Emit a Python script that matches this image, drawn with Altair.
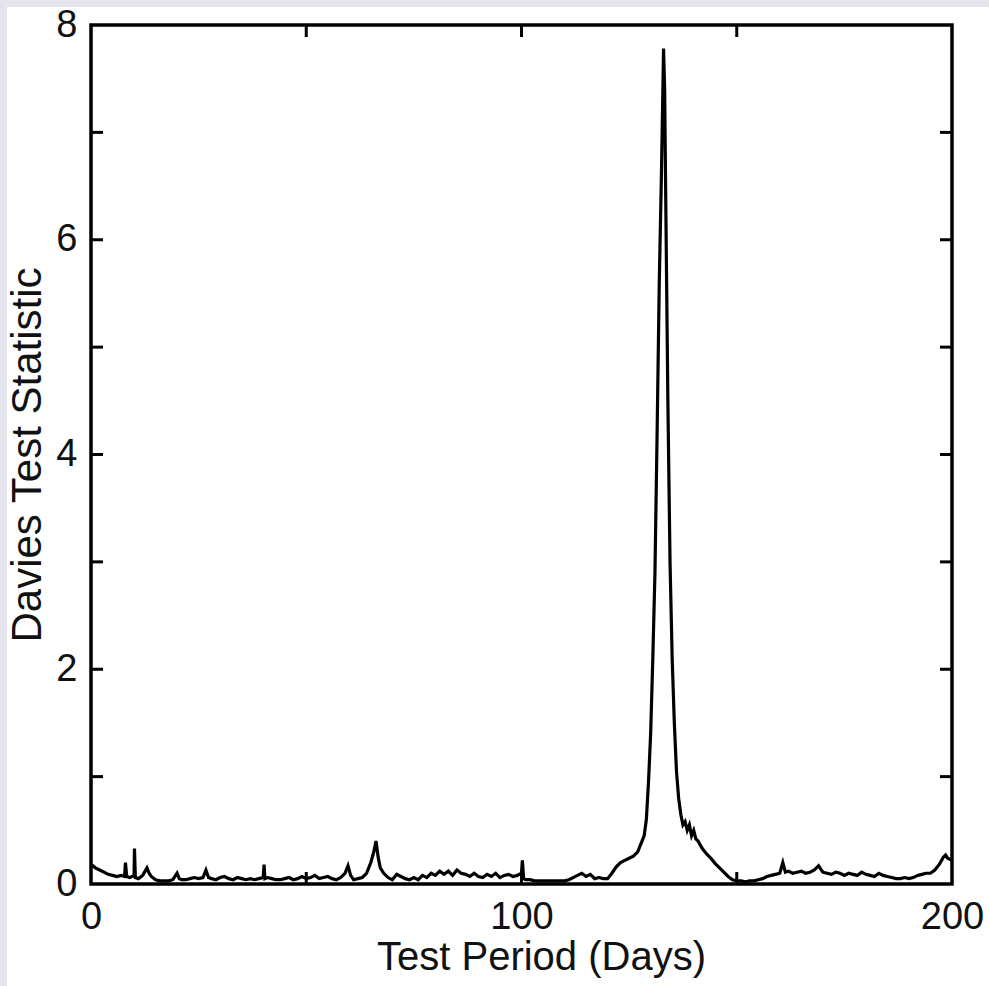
import altair as alt
import pandas as pd

# Test period (days) and Davies test statistic
days = [0, 0.5, 1, 2, 3, 4, 5, 6, 7, 7.8, 8, 8.3, 9, 10, 10.1, 10.3, 11, 12, 13, 13.5,
        14, 15, 16, 17, 18, 19, 20, 20.5, 21, 22, 23, 24, 25, 26, 26.7, 27.3, 28, 29, 30,
        31, 32, 33, 34, 35, 36, 37, 38, 39, 40, 40.2, 40.4, 41, 42, 43, 44, 45, 46, 47, 48,
        49, 50, 51, 52, 53, 54, 55, 56, 57, 58, 59, 59.7, 60.3, 61, 62, 63, 64, 65, 65.7,
        66.2, 66.7, 67.2, 68, 69, 70, 71, 72, 73, 74, 75, 76, 77, 78, 79, 80, 81, 82, 83,
        84, 85, 86, 87, 88, 89, 90, 91, 92, 93, 94, 95, 96, 97, 98, 99, 100, 100.2, 100.5,
        101, 102, 103, 104, 105, 106, 107, 108, 109, 110, 111, 112, 113, 114, 115, 116, 117,
        118, 119, 120, 121, 122, 123, 124, 125, 126, 127, 127.5, 128, 128.5, 129, 129.5,
        130, 130.5, 131, 131.5, 132, 132.5, 133, 133.25, 133.5, 134, 134.5, 135, 135.5,
        136, 136.5, 137, 137.5, 138, 138.5, 139, 139.5, 140, 140.5, 141, 142, 143, 144,
        145, 146, 147, 148, 149, 150, 151, 152, 153, 154, 155, 156, 157, 158, 159, 160,
        160.7, 161.3, 162, 163, 164, 165, 166, 167, 168, 169, 170, 171, 172, 173, 174, 175,
        176, 177, 178, 179, 180, 181, 182, 183, 184, 185, 186, 187, 188, 189, 190, 191, 192,
        193, 194, 195, 196, 197, 198, 198.5, 199, 200]
values = [0.18, 0.17, 0.15, 0.13, 0.11, 0.09, 0.08, 0.07, 0.08, 0.07, 0.2, 0.07, 0.06, 0.08,
          0.33, 0.06, 0.05, 0.08, 0.15, 0.1, 0.07, 0.04, 0.03, 0.03, 0.03, 0.04, 0.1, 0.05,
          0.04, 0.04, 0.05, 0.06, 0.05, 0.06, 0.13, 0.06, 0.05, 0.04, 0.06, 0.07, 0.05, 0.04,
          0.06, 0.05, 0.04, 0.05, 0.04, 0.05, 0.06, 0.18, 0.05, 0.06, 0.05, 0.04, 0.04, 0.05,
          0.06, 0.04, 0.05, 0.07, 0.05, 0.06, 0.08, 0.05, 0.06, 0.07, 0.05, 0.04, 0.06, 0.1,
          0.17, 0.08, 0.04, 0.05, 0.06, 0.1, 0.2, 0.3, 0.4, 0.25, 0.15, 0.1, 0.06, 0.04, 0.09,
          0.07, 0.05, 0.04, 0.06, 0.04, 0.08, 0.06, 0.1, 0.08, 0.12, 0.09, 0.12, 0.08, 0.13,
          0.1, 0.09, 0.07, 0.1, 0.07, 0.06, 0.09, 0.07, 0.1, 0.06, 0.08, 0.09, 0.07, 0.08, 0.1,
          0.22, 0.05, 0.04, 0.04, 0.03, 0.03, 0.03, 0.03, 0.03, 0.03, 0.03, 0.03, 0.04, 0.06,
          0.08, 0.1, 0.07, 0.09, 0.05, 0.06, 0.05, 0.05, 0.1, 0.16, 0.2, 0.22, 0.24, 0.26, 0.3,
          0.35, 0.4, 0.45, 0.6, 0.95, 1.4, 2.1, 2.9, 4.2, 5.6, 6.6, 7.78, 7.4, 6.4, 4.5, 3.0,
          2.1, 1.5, 1.05, 0.8, 0.65, 0.55, 0.58, 0.5, 0.55, 0.45, 0.5, 0.42, 0.4, 0.33, 0.28,
          0.24, 0.19, 0.15, 0.11, 0.07, 0.04, 0.03, 0.03, 0.02, 0.03, 0.03, 0.04, 0.05, 0.07,
          0.08, 0.09, 0.1, 0.2, 0.11, 0.12, 0.1, 0.11, 0.12, 0.1, 0.11, 0.13, 0.17, 0.11, 0.1,
          0.09, 0.11, 0.1, 0.08, 0.1, 0.09, 0.08, 0.11, 0.09, 0.08, 0.07, 0.1, 0.08, 0.07,
          0.06, 0.05, 0.05, 0.06, 0.05, 0.06, 0.08, 0.09, 0.1, 0.1, 0.13, 0.18, 0.25, 0.27,
          0.24, 0.22]

y_ticks = [1, 2, 3, 4, 5, 6, 7]
x_ticks = [50, 100, 150]
y_labels = [0, 2, 4, 6, 8]
x_labels = [0, 100, 200]

W, H = 861, 859
FONT = "Liberation Sans"
INK = "#111111"

df = pd.DataFrame({"d": days, "v": values})
yt = pd.DataFrame({"v": y_ticks})
xt = pd.DataFrame({"d": x_ticks})

xscale = alt.Scale(domain=[0, 200], nice=False, zero=False)
yscale = alt.Scale(domain=[0, 8], nice=False)

xaxis = alt.Axis(values=x_labels, title="Test Period (Days)", ticks=False, domain=False,
                 grid=False, labelFlush=False, labelOverlap=False, labelPadding=14,
                 labelFontSize=38, titleFontSize=40, titlePadding=1, titleX=450, zindex=1)
yaxis = alt.Axis(values=y_labels, title="Davies Test Statistic", ticks=False,
                 domain=False, grid=False, labelPadding=14, labelOverlap=False,
                 labelFontSize=38, titleFontSize=42,
                 labelFlush=False, titlePadding=6, zindex=1)

# white page area (the reference has a thin grey border on top and left)
page = alt.Chart(pd.DataFrame({"a": [0]})).mark_rect(color="white").encode(
    x=alt.value(-84), x2=alt.value(989 - 91),
    y=alt.value(-18), y2=alt.value(986 - 25),
)

line = alt.Chart(df).mark_line(color="black", strokeWidth=3.2, interpolate="linear").encode(
    x=alt.X("d:Q", scale=xscale, axis=xaxis),
    y=alt.Y("v:Q", scale=yscale, axis=yaxis),
)

tl = alt.Chart(yt).mark_rule(color="black", strokeWidth=3).encode(
    y=alt.Y("v:Q", scale=yscale, axis=yaxis), x=alt.value(0), x2=alt.value(12))
tr = alt.Chart(yt).mark_rule(color="black", strokeWidth=3).encode(
    y=alt.Y("v:Q", scale=yscale, axis=yaxis), x=alt.value(W - 12), x2=alt.value(W))
tb = alt.Chart(xt).mark_rule(color="black", strokeWidth=3).encode(
    x=alt.X("d:Q", scale=xscale, axis=xaxis), y=alt.value(H - 12), y2=alt.value(H))
tt = alt.Chart(xt).mark_rule(color="black", strokeWidth=3).encode(
    x=alt.X("d:Q", scale=xscale, axis=xaxis), y=alt.value(0), y2=alt.value(12))

frame = alt.Chart(pd.DataFrame({"a": [0]})).mark_rect(
    filled=False, stroke="black", strokeWidth=3.5).encode(
    x=alt.value(0), x2=alt.value(W), y=alt.value(0), y2=alt.value(H))

chart = alt.layer(page, line, tl, tr, tb, tt, frame).properties(
    width=W, height=H,
    autosize=alt.AutoSizeParams(type="none"),
    padding={"left": 91, "top": 25, "right": 37, "bottom": 102},
    background="#e4e4ec",
).configure_view(stroke=None).configure_axis(
    labelFont=FONT, titleFont=FONT,
    labelColor=INK, titleColor=INK, titleFontWeight="normal",
)

chart.save("out.html", embed_options={"renderer": "svg", "actions": False})
